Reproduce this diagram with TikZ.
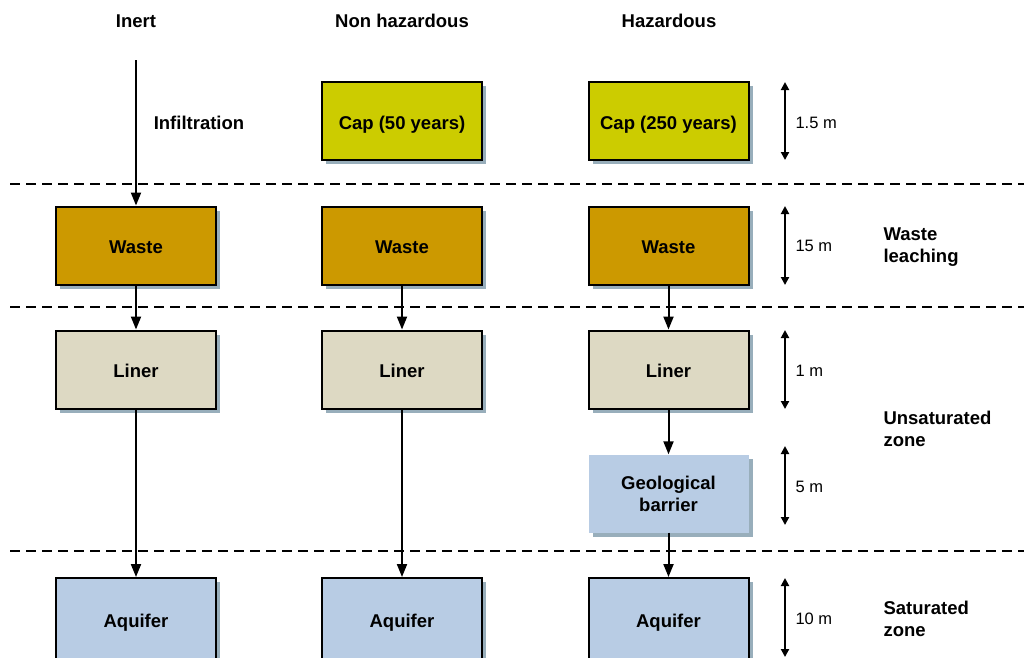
\documentclass[tikz,border=0pt]{standalone}
\usepackage{fontspec}
\setmainfont{Liberation Sans}
\usetikzlibrary{arrows.meta,shadows}
\definecolor{capc}{HTML}{CCCC00}
\definecolor{wastec}{HTML}{CC9900}
\definecolor{linerc}{HTML}{DDD9C3}
\definecolor{waterc}{HTML}{B8CCE4}
\definecolor{shadowc}{HTML}{98AEBB}
\tikzset{
  layer/.style={minimum width=160pt, minimum height=78pt, inner sep=0pt,
    align=center, font=\fontsize{18.5}{22}\selectfont\bfseries,
    drop shadow={shadow xshift=4pt, shadow yshift=-4pt, fill=shadowc, opacity=1}},
  boxed/.style={layer, draw=black, line width=2pt, text height=16.2pt, text depth=0pt},
  head/.style={font=\fontsize{18.5}{22}\selectfont\bfseries},
  side/.style={anchor=west, align=left, font=\fontsize{18.5}{22}\selectfont\bfseries},
  dim/.style={anchor=west, font=\fontsize{16.5}{20}\selectfont},
  flow/.style={line width=2pt, -{Triangle[length=13pt,width=10pt]}},
  size/.style={line width=2.4pt, {Triangle[length=8pt,width=8pt]}-{Triangle[length=8pt,width=8pt]}},
  zone/.style={line width=2pt, dash pattern=on 10pt off 6pt},
}
\begin{document}
\begin{tikzpicture}[x=1pt,y=-1pt]
\useasboundingbox (0,0) rectangle (1024,657);
% column headings
\node[head] (h1) at (136,21) {Inert};
\node[head] (h2) at (402,21) {Non hazardous};
\node[head] (h3) at (669,21) {Hazardous};
% zone boundaries
\draw[zone] (10,184) -- (1024,184);
\draw[zone] (10,307) -- (1024,307);
\draw[zone] (10,551) -- (1024,551);
% caps
\node[boxed, fill=capc] (cap2) at (402,121) {Cap (50 years)};
\node[boxed, fill=capc] (cap3) at (668.5,121) {Cap (250 years)};
% waste
\node[boxed, fill=wastec] (w1) at (136,245.5) {Waste};
\node[boxed, fill=wastec] (w2) at (402,245.5) {Waste};
\node[boxed, fill=wastec] (w3) at (668.5,245.5) {Waste};
% liners
\node[boxed, fill=linerc] (l1) at (136,369.5) {Liner};
\node[boxed, fill=linerc] (l2) at (402,369.5) {Liner};
\node[boxed, fill=linerc] (l3) at (668.5,369.5) {Liner};
% geological barrier
\node[layer, fill=waterc] (g3) at (668.5,493.5) {Geological\\barrier};
% aquifers (running past the lower edge)
\node[boxed, fill=waterc, minimum height=82pt] (a1) at (136,619) {Aquifer};
\node[boxed, fill=waterc, minimum height=82pt] (a2) at (402,619) {Aquifer};
\node[boxed, fill=waterc, minimum height=82pt] (a3) at (668.5,619) {Aquifer};
% infiltration
\coordinate (src) at (136,60);
\draw[flow] (src) -- (w1.north);
\node[head] (inf) at (199,123) {Infiltration};
% flows
\draw[flow] (w1.south) -- (l1.north);
\draw[flow] (w2.south) -- (l2.north);
\draw[flow] (w3.south) -- (l3.north);
\draw[flow] (l1.south) -- (a1.north);
\draw[flow] (l2.south) -- (a2.north);
\draw[flow] (l3.south) -- (g3.north);
\draw[flow] (g3.south) -- (a3.north);
% thicknesses
\coordinate (t1a) at (785,82);  \coordinate (t1b) at (785,160);
\coordinate (t2a) at (785,206); \coordinate (t2b) at (785,285);
\coordinate (t3a) at (785,330); \coordinate (t3b) at (785,409);
\coordinate (t4a) at (785,446); \coordinate (t4b) at (785,525);
\coordinate (t5a) at (785,578); \coordinate (t5b) at (785,657);
\draw[size] (t1a) -- (t1b);
\draw[size] (t2a) -- (t2b);
\draw[size] (t3a) -- (t3b);
\draw[size] (t4a) -- (t4b);
\draw[size] (t5a) -- (t5b);
\node[dim] (d1) at (792,123) {1.5 m};
\node[dim] (d2) at (792,246) {15 m};
\node[dim] (d3) at (792,371) {1 m};
\node[dim] (d4) at (792,487) {5 m};
\node[dim] (d5) at (792,619) {10 m};
% zone names
\node[side] (z1) at (880,247) {Waste\\leaching};
\node[side] (z2) at (880,429) {Unsaturated\\zone};
\node[side] (z3) at (880,619) {Saturated\\zone};
\end{tikzpicture}
\end{document}
